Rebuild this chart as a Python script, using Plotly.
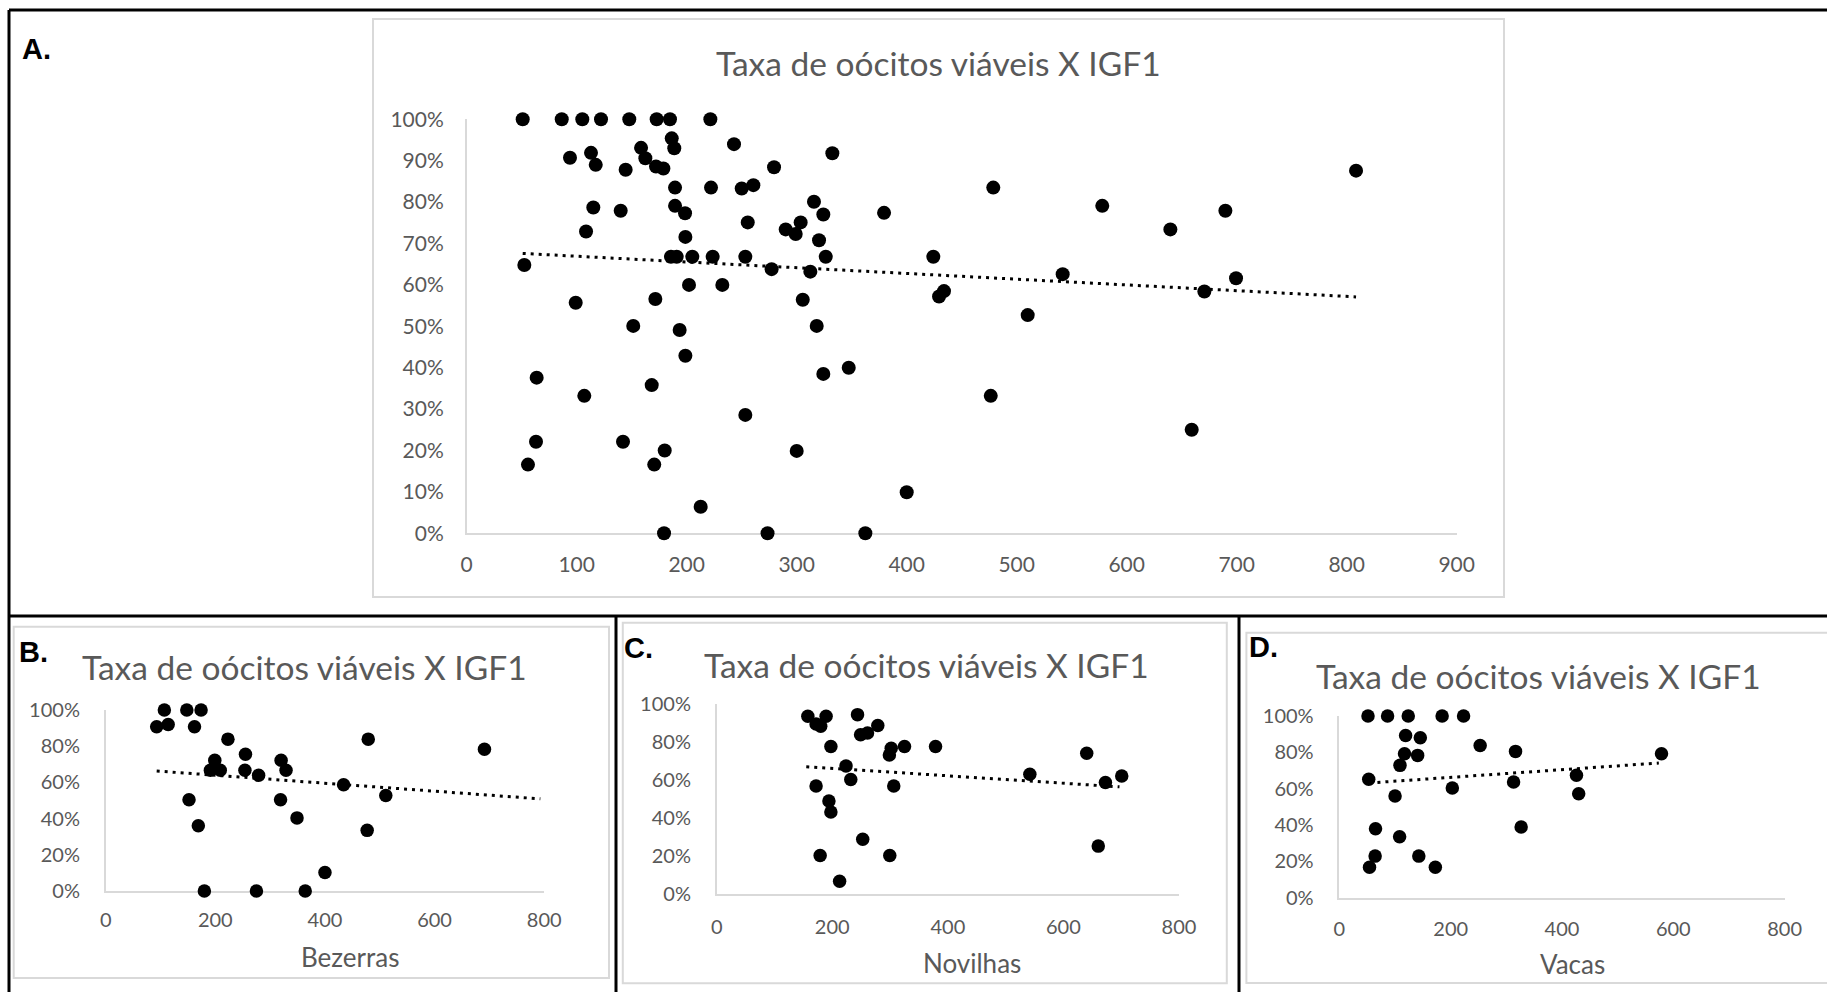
import numpy as np
import plotly.graph_objects as go

W, H = 1827, 992

# ---- data: IGF1 (x) vs viable oocyte rate (y, %) ----
# A. all animals
a_x = [50.9, 86.4, 105.1, 122.1, 147.8, 172.7, 184.8, 221.5, 186.4, 188.7, 243.0,
       93.9, 113.0, 117.3, 144.5, 158.5, 162.4, 172.1, 178.8, 279.4, 189.4, 222.1,
       250.0, 260.6, 115.1, 140.0, 189.4, 198.5, 255.5, 108.5, 198.8, 185.7, 190.9,
       205.1, 223.6, 253.3, 277.2, 52.4, 202.1, 232.4, 99.1, 171.5, 151.4, 193.6,
       198.8, 63.6, 168.2, 106.9, 253.3, 63.0, 142.1, 180.0, 55.7, 170.5, 212.7,
       179.4, 273.5, 332.4, 478.7, 577.8, 315.7, 324.2, 379.4, 290.0, 299.1, 303.6,
       320.3, 326.4, 424.2, 312.4, 541.8, 433.9, 429.4, 305.5, 510.0, 318.2, 347.3,
       324.2, 476.4, 300.0, 400.0, 362.4, 808.5, 689.7, 639.7, 699.4, 670.6, 659.1]
a_y = [100, 100, 100, 100, 100, 100, 100, 100, 95.4, 93.0, 94.0,
       90.7, 91.9, 89.0, 87.8, 93.1, 90.6, 88.6, 88.1, 88.4, 83.5, 83.5,
       83.3, 84.1, 78.7, 77.9, 79.1, 77.3, 75.1, 72.9, 71.6, 66.8, 66.8,
       66.8, 66.8, 66.8, 63.8, 64.8, 60.0, 60.0, 55.7, 56.6, 50.1, 49.1,
       42.9, 37.6, 35.8, 33.2, 28.6, 22.1, 22.1, 20.0, 16.6, 16.6, 6.4,
       0, 0, 91.8, 83.5, 79.1, 80.1, 77.0, 77.4, 73.4, 72.3, 75.1,
       70.8, 66.8, 66.8, 63.2, 62.6, 58.5, 57.2, 56.4, 52.7, 50.1, 40.0,
       38.5, 33.2, 19.9, 9.9, 0, 87.6, 77.9, 73.4, 61.6, 58.4, 25.0]

# B. Bezerras
b_x = [107, 148, 174, 93, 114, 162, 223, 199, 191, 209, 255, 254, 279, 320,
       329, 319, 349, 434, 479, 511, 691, 477, 400, 152, 169, 180, 275, 364]
b_y = [100, 100, 100, 90.7, 92, 90.7, 83.9, 72.2, 66.7, 66.7, 75.6, 66.7, 63.9, 72.2,
       66.7, 50.4, 40.4, 58.7, 83.9, 52.8, 78.3, 33.5, 10.2, 50.4, 36.1, 0, 0, 0]

# C. Novilhas
c_x = [157.7, 189.3, 172, 180, 243.7, 278.8, 249, 261, 197.6, 302, 298.8, 325,
       378.7, 223.8, 232, 172, 306.4, 194.2, 197.6, 252.7, 179, 299.5, 212.7,
       541.9, 640.3, 672.7, 700.9, 660.3]
c_y = [93.5, 93.5, 89.5, 88.3, 94.4, 88.7, 83.8, 84.7, 77.6, 76.7, 73.2, 77.6,
       77.6, 67.4, 60.3, 56.8, 56.8, 49, 43.2, 28.8, 20.3, 20.3, 6.7,
       63, 74.1, 58.7, 62.1, 25.2]

# D. Vacas
d_x = [51.4, 86.6, 123.7, 184.6, 223.1, 119, 145.4, 252.9, 316.5, 117, 140.6,
       108.9, 578.8, 52.7, 313, 426, 430, 202.9, 100, 64.9, 108.2, 326.6, 64.2,
       142.7, 54.1, 172.4]
d_y = [100, 100, 100, 100, 100, 89.3, 88, 83.8, 80.5, 79.2, 78.3,
       72.8, 79.2, 65.1, 63.6, 67.3, 57.2, 60.3, 55.9, 37.9, 33.5, 38.8, 22.8,
       22.8, 16.7, 16.7]

# linear trendlines: (start x, end x) and (start %, end %)
trend_a_x, trend_a_y = [50.9, 808.5], [67.6, 57.1]
trend_b_x, trend_b_y = [93, 793], [66.3, 50.9]
trend_c_x, trend_c_y = [155, 697], [67.0, 56.4]
trend_d_x, trend_d_y = [54, 574], [63.1, 74.1]

chart_title = "Taxa de oócitos viáveis X IGF1"
x_titles = ["Bezerras", "Novilhas", "Vacas"]
letters = ["A.", "B.", "C.", "D."]

GRAY_TXT = "#595959"
GRAY_LINE = "#d9d9d9"
FONT = "Lato"


def px_x(a, b):
    return [a / W, b / W]


def px_y(top, bottom):
    return [1 - bottom / H, 1 - top / H]


# plot-area geometry of each panel (pixel domains, ranges, tick spacing, label gaps)
panels = [
    dict(xd=(466.7, 1456.7), yd=(119.3, 533.3), xmax=900, dx=100, dy=0.1,
         fs=21, pts=(a_x, a_y), trend=(trend_a_x, trend_a_y), ms=14,
         xgap=12, ygap=17),
    dict(xd=(105.7, 544.2), yd=(710.0, 891.0), xmax=800, dx=200, dy=0.2,
         fs=20, pts=(b_x, b_y), trend=(trend_b_x, trend_b_y), ms=13.5,
         xgap=10, ygap=20),
    dict(xd=(716.7, 1179.0), yd=(704.0, 894.0), xmax=800, dx=200, dy=0.2,
         fs=20, pts=(c_x, c_y), trend=(trend_c_x, trend_c_y), ms=13.5,
         xgap=14, ygap=20),
    dict(xd=(1339.4, 1784.6), yd=(716.0, 897.5), xmax=800, dx=200, dy=0.2,
         fs=20, pts=(d_x, d_y), trend=(trend_d_x, trend_d_y), ms=13.5,
         xgap=13, ygap=20),
]

fig = go.Figure()
layout = {}
for i, p in enumerate(panels):
    n = "" if i == 0 else str(i + 1)
    xs, ys = p["pts"]
    tx, ty = p["trend"]
    fig.add_trace(go.Scatter(
        x=tx, y=np.array(ty) / 100.0, mode="lines", xaxis="x" + n, yaxis="y" + n,
        line=dict(color="black", width=3, dash="3px,5px"),
        showlegend=False, hoverinfo="skip", cliponaxis=False))
    fig.add_trace(go.Scatter(
        x=xs, y=np.array(ys) / 100.0, mode="markers", xaxis="x" + n, yaxis="y" + n,
        marker=dict(color="black", size=p["ms"], line=dict(width=0)),
        showlegend=False, hoverinfo="x+y", cliponaxis=False))
    common = dict(showgrid=False, zeroline=False, showline=True, automargin=False,
                  linecolor=GRAY_LINE, linewidth=1.5, ticks="",
                  tickfont=dict(family=FONT, size=p["fs"], color=GRAY_TXT),
                  fixedrange=True, layer="below traces")
    layout["xaxis" + n] = dict(common, domain=px_x(*p["xd"]), range=[0, p["xmax"]],
                               dtick=p["dx"], tick0=0, anchor="y" + n,
                               ticklabelstandoff=p["xgap"])
    layout["yaxis" + n] = dict(common, domain=px_y(*p["yd"]), range=[0, 1],
                               dtick=p["dy"], tick0=0, tickformat=".0%",
                               anchor="x" + n, ticklabelstandoff=p["ygap"])

shapes = []
# light chart-area borders
for (x0, y0, x1, y1) in [(373, 19, 1504, 597), (13.7, 626.7, 609, 978),
                         (622.8, 622.7, 1226.8, 983.3), (1246.4, 632.7, 1835, 983)]:
    shapes.append(dict(type="rect", xref="paper", yref="paper", layer="below",
                       x0=x0 / W, x1=x1 / W, y0=1 - y1 / H, y1=1 - y0 / H,
                       line=dict(color=GRAY_LINE, width=2), fillcolor="rgba(0,0,0,0)"))
# black frame of the figure grid
for (x0, y0, x1, y1) in [(9, 10, W + 5, 10), (9, 10, 9, H + 5), (9, 616, W + 5, 616),
                         (616, 616, 616, H + 5), (1239, 616, 1239, H + 5)]:
    shapes.append(dict(type="line", xref="paper", yref="paper",
                       x0=x0 / W, x1=x1 / W, y0=1 - y0 / H, y1=1 - y1 / H,
                       line=dict(color="black", width=3)))

annotations = []
# chart titles
for cx, cy in [(938, 63), (304.5, 667), (926.3, 665), (1538.5, 676)]:
    annotations.append(dict(text=chart_title, x=cx / W, y=1 - cy / H, xref="paper",
                            yref="paper", xanchor="center", yanchor="middle",
                            showarrow=False,
                            font=dict(family=FONT, size=33.5, color=GRAY_TXT)))
# x-axis titles of the lower panels
for t, (cx, cy) in zip(x_titles, [(349.5, 957), (972, 963), (1572, 964)]):
    annotations.append(dict(text=t, x=cx / W, y=1 - cy / H, xref="paper", yref="paper",
                            xanchor="center", yanchor="middle", showarrow=False,
                            font=dict(family=FONT, size=26, color=GRAY_TXT)))
# panel letters
for t, (lx, ly) in zip(letters, [(20, 49), (17, 652), (622, 648), (1247, 647)]):
    annotations.append(dict(text="<b>" + t + "</b>", x=lx / W, y=1 - ly / H,
                            xref="paper", yref="paper", xanchor="left",
                            yanchor="middle", showarrow=False,
                            font=dict(family="Liberation Sans", size=29, color="black")))

fig.update_layout(
    template="none",
    width=W, height=H, margin=dict(l=0, r=0, t=0, b=0, pad=0, autoexpand=False),
    paper_bgcolor="white", plot_bgcolor="white", showlegend=False,
    shapes=shapes, annotations=annotations, **layout)

fig.write_html(
    "out.html", config={"displayModeBar": False},
    post_script="document.body.style.margin='0';"
                "document.documentElement.style.overflow='hidden';"
                "document.body.style.overflow='hidden';")
